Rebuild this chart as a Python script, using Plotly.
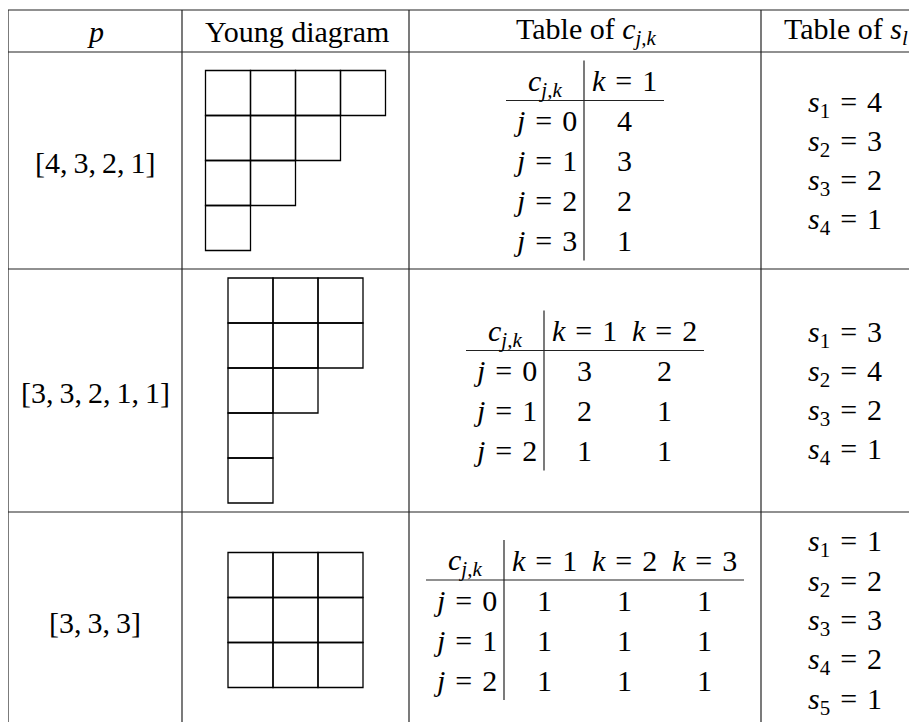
import plotly.graph_objects as go

# ---- data ----
headers = ["<i>p</i>", "Young diagram",
           "Table of <i>c</i><sub><i>j,k</i></sub>", "Table of <i>s</i><sub><i>l</i></sub>"]
partitions = [[4, 3, 2, 1], [3, 3, 2, 1, 1], [3, 3, 3]]
c_tables = [
    [[4], [3], [2], [1]],
    [[3, 2], [2, 1], [1, 1]],
    [[1, 1, 1], [1, 1, 1], [1, 1, 1]],
]
s_values = [[4, 3, 2, 1], [3, 4, 2, 1], [1, 2, 3, 2, 1]]

# ---- layout constants (page pixels) ----
W, H = 917, 722
OFF = 8  # page body margin
col_edges = [8, 182, 409, 761, 916]
row_edges = [10, 52, 269, 512, 728]
CELL = 45
TROW = 40
LAB_W = 78
KCOL_W = 80
S_STEP = 39.3
S_X = 845
FONT = "Liberation Serif"
FS = 30
SP = "\u2004"

fig = go.Figure()
shapes = []
ann = []

def line(x0, y0, x1, y1, w=1.2, color="#222"):
    shapes.append(dict(type="line", x0=x0, y0=y0, x1=x1, y1=y1, xref="x", yref="y",
                       line=dict(color=color, width=w)))

def text(x, y, t, size=FS, xanchor="center"):
    ann.append(dict(x=x, y=y, xref="x", yref="y", text=t, showarrow=False,
                    xanchor=xanchor, yanchor="middle",
                    font=dict(family=FONT, size=size, color="black")))

def eq(lhs, rhs):
    return f"{lhs}{SP}={SP}{rhs}"

# outer grid
for y in row_edges[:-1]:
    line(col_edges[0], y, col_edges[-1], y)
for x in col_edges:
    line(x, row_edges[0], x, H + 5)

# headers
header_x = [95, 297, 586, 846]
hy = (row_edges[0] + row_edges[1]) / 2
for hx, h in zip(header_x, headers):
    text(hx, hy, h)

cx_p = (col_edges[0] + col_edges[1]) / 2
cx_y = (col_edges[1] + col_edges[2]) / 2
cx_c = (col_edges[2] + col_edges[3]) / 2

for r, p in enumerate(partitions):
    cy = (row_edges[r + 1] + row_edges[r + 2]) / 2
    # partition label
    text(cx_p, cy + 2, "[" + ",\u2009".join(str(v) for v in p) + "]")
    # Young diagram
    x0 = cx_y - p[0] * CELL / 2
    y0 = cy - len(p) * CELL / 2
    for i, n in enumerate(p):
        for j in range(n):
            shapes.append(dict(type="rect", xref="x", yref="y",
                               x0=x0 + j * CELL, x1=x0 + (j + 1) * CELL,
                               y0=y0 + i * CELL, y1=y0 + (i + 1) * CELL,
                               line=dict(color="black", width=1.3)))
    # c table
    tab = c_tables[r]
    nk = len(tab[0])
    nj = len(tab)
    tw = LAB_W + nk * KCOL_W
    th = (nj + 1) * TROW
    xl = cx_c - tw / 2
    yt = cy - th / 2
    line(xl + LAB_W, yt, xl + LAB_W, yt + th, w=1.2)
    line(xl, yt + TROW, xl + tw, yt + TROW, w=1.2)
    text(xl + LAB_W / 2, yt + TROW / 2 + 2, "<i>c</i><sub><i>j,k</i></sub>")
    for k in range(nk):
        text(xl + LAB_W + (k + 0.5) * KCOL_W, yt + TROW / 2, eq("<i>k</i>", k + 1))
    for j, rowvals in enumerate(tab):
        ry = yt + (j + 1.5) * TROW
        text(xl + LAB_W / 2, ry, eq("<i>j</i>", j))
        for k, v in enumerate(rowvals):
            text(xl + LAB_W + (k + 0.5) * KCOL_W, ry, str(v))
    # s list
    sv = s_values[r]
    for l, v in enumerate(sv):
        sy = cy + (l - (len(sv) - 1) / 2) * S_STEP
        text(S_X, sy + 2, eq(f"<i>s</i><sub>{l + 1}</sub>", v))

fig.update_layout(
    width=W - OFF, height=H - OFF,
    margin=dict(l=0, r=0, t=0, b=0),
    paper_bgcolor="white", plot_bgcolor="white",
    xaxis=dict(range=[OFF, W], visible=False, fixedrange=True),
    yaxis=dict(range=[H, OFF], visible=False, fixedrange=True),
    shapes=shapes, annotations=ann, showlegend=False,
)
fig.write_html("out.html")
